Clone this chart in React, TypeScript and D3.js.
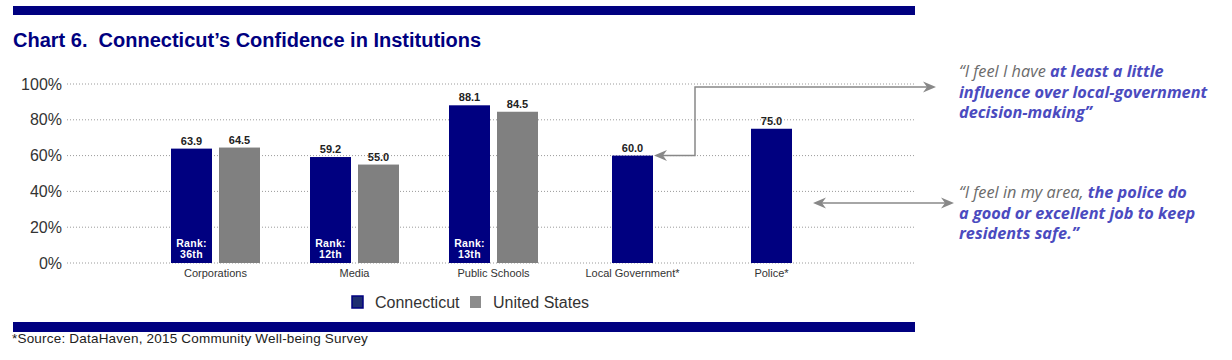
import React, { useEffect, useRef } from 'react'
import * as d3 from 'd3'

const categories = ['Corporations', 'Media', 'Public Schools', 'Local Government*', 'Police*']
const connecticut = [63.9, 59.2, 88.1, 60.0, 75.0]
const unitedStates: (number | null)[] = [64.5, 55.0, 84.5, null, null]
const ranks: (string | null)[] = ['36th', '12th', '13th', null, null]
const yTicks = [0, 20, 40, 60, 80, 100]
const legendItems = ['Connecticut', 'United States']

const NAVY = '#000080'
const GREY = '#808080'
const QUOTE_BLUE = '#4b4bbf'
const QUOTE_GREY = '#6b6b6b'
const ARROW = '#888888'

const App = () => {
    const ref = useRef<SVGSVGElement>(null)

    useEffect(() => {
        const svg = d3.select(ref.current)
        svg.selectAll('*').remove()

        const barW = 41, gap = 7

        const x = d3.scaleBand().domain(categories).range([146, 841])
        const y = d3.scaleLinear().domain([0, 100]).range([263, 84])

        // top + bottom rules
        svg.append('rect').attr('x', 13).attr('y', 6).attr('width', 902).attr('height', 9).attr('fill', NAVY)
        svg.append('rect').attr('x', 13).attr('y', 322).attr('width', 902).attr('height', 10).attr('fill', NAVY)

        svg.append('text')
            .attr('x', 13).attr('y', 47)
            .attr('fill', NAVY)
            .attr('font-family', "'Liberation Sans Narrow', 'Liberation Sans', Arial, sans-serif")
            .attr('font-weight', 'bold')
            .attr('font-size', 20)
            .text('Chart 6.\u00a0 Connecticut’s Confidence in Institutions')

        // gridlines + y labels
        const grid = svg.append('g')
        grid.selectAll('line')
            .data(yTicks)
            .join('line')
            .attr('x1', 67).attr('x2', 915)
            .attr('y1', d => y(d)).attr('y2', d => y(d))
            .attr('stroke', '#9a9a9a')
            .attr('stroke-width', 1)
            .attr('stroke-dasharray', '1,2')
        grid.selectAll('text')
            .data(yTicks)
            .join('text')
            .attr('x', 62).attr('y', d => y(d) + 5.5)
            .attr('text-anchor', 'end')
            .attr('font-family', "'Liberation Sans', Arial, sans-serif")
            .attr('font-size', 16)
            .attr('fill', '#333')
            .text(d => d + '%')

        const rows = categories.map((c, i) => ({ c, ct: connecticut[i], us: unitedStates[i], rank: ranks[i] }))
        const ctX = d => {
            const mid = x(d.c)! + x.bandwidth() / 2
            return d.us == null ? mid - barW / 2 : mid - gap / 2 - barW
        }
        const usX = d => x(d.c)! + x.bandwidth() / 2 + gap / 2

        const g = svg.append('g')
        g.selectAll('rect.ct')
            .data(rows)
            .join('rect')
            .attr('class', 'ct')
            .attr('x', ctX)
            .attr('y', d => y(d.ct))
            .attr('width', barW)
            .attr('height', d => y(0) - y(d.ct))
            .attr('fill', NAVY)
        g.selectAll('rect.us')
            .data(rows.filter(d => d.us != null))
            .join('rect')
            .attr('class', 'us')
            .attr('x', usX)
            .attr('y', d => y(d.us!))
            .attr('width', barW)
            .attr('height', d => y(0) - y(d.us!))
            .attr('fill', GREY)

        const valueLabel = (sel, xf, vf) => sel
            .attr('x', d => xf(d) + barW / 2)
            .attr('y', d => y(vf(d)) - 4)
            .attr('text-anchor', 'middle')
            .attr('font-family', "'Liberation Sans', Arial, sans-serif")
            .attr('font-weight', 'bold')
            .attr('font-size', 11)
            .attr('fill', '#222')
            .text(d => vf(d).toFixed(1))

        g.selectAll('text.ctv').data(rows).join('text').attr('class', 'ctv')
            .call(valueLabel, ctX, d => d.ct)
        g.selectAll('text.usv').data(rows.filter(d => d.us != null)).join('text').attr('class', 'usv')
            .call(valueLabel, usX, d => d.us)

        // rank labels inside CT bars, two lines
        const rankText = (cls, yy, f) => g.selectAll('text.' + cls)
            .data(rows.filter(d => d.rank))
            .join('text')
            .attr('class', cls)
            .attr('x', d => ctX(d) + barW / 2)
            .attr('y', yy)
            .attr('text-anchor', 'middle')
            .attr('font-family', "'Liberation Sans', Arial, sans-serif")
            .attr('font-weight', 'bold')
            .attr('font-size', 10.5)
            .attr('letter-spacing', 0.3)
            .attr('fill', '#fff')
            .text(f)
        rankText('rank1', y(0) - 16, () => 'Rank:')
        rankText('rank2', y(0) - 5, d => d.rank)

        // category labels
        g.selectAll('text.cat')
            .data(categories)
            .join('text')
            .attr('class', 'cat')
            .attr('x', d => x(d)! + x.bandwidth() / 2)
            .attr('y', 277)
            .attr('text-anchor', 'middle')
            .attr('font-family', "'Liberation Sans', Arial, sans-serif")
            .attr('font-size', 11)
            .attr('fill', '#333')
            .text(d => d)

        // legend
        const leg = svg.append('g')
        const legX = [352, 470]
        leg.selectAll('rect')
            .data(legendItems)
            .join('rect')
            .attr('x', (d, i) => legX[i]).attr('y', 296)
            .attr('width', 11).attr('height', 12)
            .attr('fill', (d, i) => i === 0 ? '#1f2f70' : '#8c8c8c')
            .attr('stroke', (d, i) => i === 0 ? NAVY : 'none')
            .attr('stroke-width', 1.5)
        leg.selectAll('text')
            .data(legendItems)
            .join('text')
            .attr('x', (d, i) => legX[i] + 23).attr('y', 308)
            .attr('font-family', "'Liberation Sans', Arial, sans-serif")
            .attr('font-size', 16)
            .attr('fill', '#333')
            .text(d => d)

        svg.append('text')
            .attr('x', 12).attr('y', 343)
            .attr('font-family', "'Liberation Sans', Arial, sans-serif")
            .attr('font-size', 13.5)
            .attr('letter-spacing', 0.2)
            .attr('fill', '#222')
            .text('*Source: DataHaven, 2015 Community Well-being Survey')

        // arrows
        const head = (px, py, dir) => {
            // stealth-style arrow head pointing in dir (1 right, -1 left)
            const L = 13, w = 5.5, n = 4
            return `M${px},${py} L${px - dir * L},${py - w} L${px - dir * (L - n)},${py} L${px - dir * L},${py + w} Z`
        }
        const arr = svg.append('g')
        const lg = rows[3]
        const lgRight = ctX(lg) + barW + 1
        const lgY = y(lg.ct)
        const elbowX = 695
        const topY = y(98.3)
        arr.append('path')
            .attr('d', `M${lgRight + 6},${lgY} H${elbowX} V${topY} H${930}`)
            .attr('fill', 'none').attr('stroke', ARROW).attr('stroke-width', 1.5)
        arr.append('path').attr('d', head(lgRight, lgY, -1)).attr('fill', ARROW)
        arr.append('path').attr('d', head(936, topY, 1)).attr('fill', ARROW)

        const pol = rows[4]
        const midY = y(33.5)
        const polLeft = ctX(pol) + barW + 21
        arr.append('path')
            .attr('d', `M${polLeft + 6},${midY} H${948}`)
            .attr('fill', 'none').attr('stroke', ARROW).attr('stroke-width', 1.5)
        arr.append('path').attr('d', head(polLeft, midY, -1)).attr('fill', ARROW)
        arr.append('path').attr('d', head(954, midY, 1)).attr('fill', ARROW)

        // quotes
        const quotes = [
            { y: 77, lines: [[['“I feel I have ', false], ['at least a little', true]], [['influence over local-government', true]], [['decision-making”', true]]] },
            { y: 198, lines: [[['“I feel in my area, ', false], ['the police do', true]], [['a good or excellent job to keep', true]], [['residents safe.”', true]]] },
        ]
        quotes.forEach(q => {
            q.lines.forEach((parts, li) => {
                const t = svg.append('text')
                    .attr('x', 959).attr('y', q.y + li * 20.5)
                    .attr('font-family', "'Open Sans', 'Noto Sans', sans-serif")
                    .attr('font-style', 'italic')
                    .attr('font-size', 16.3)
                parts.forEach(([s, b]) => {
                    t.append('tspan')
                        .attr('fill', b ? QUOTE_BLUE : QUOTE_GREY)
                        .attr('font-weight', b ? 'bold' : 'normal')
                        .text(s as string)
                })
            })
        })
    }, [])

    return (
        <svg ref={ref} width={1232} height={360} viewBox='0 0 1232 360'
            style={{ position: 'absolute', left: 0, top: 0, background: '#fff' }} />
    )
}

export default App
